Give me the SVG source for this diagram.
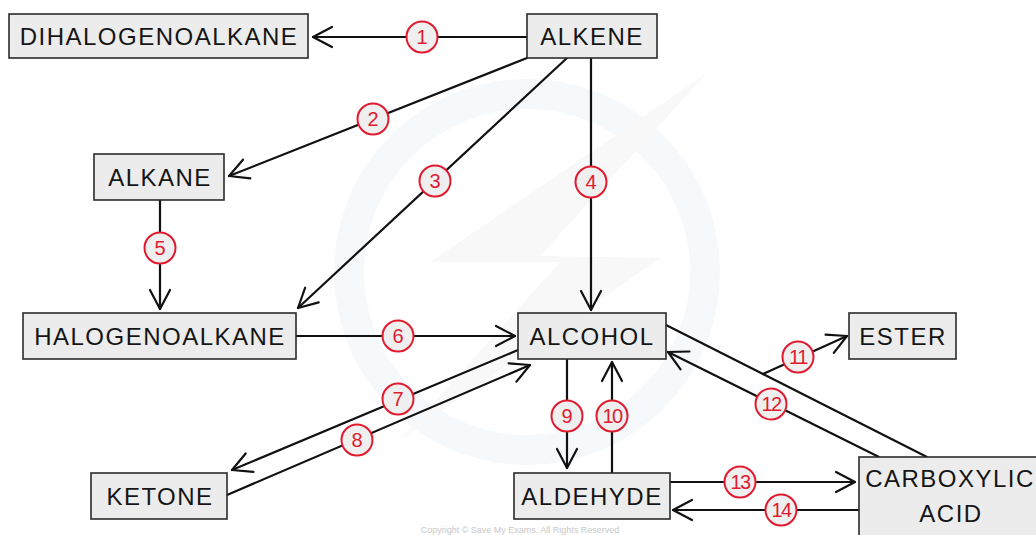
<svg xmlns="http://www.w3.org/2000/svg" width="1036" height="535" viewBox="0 0 1036 535">
  <style>
    .box { fill: #ececec; stroke: #2b2b2b; stroke-width: 1.6; }
    .lbl { font-family: "Liberation Sans", Arial, sans-serif; font-size: 24px; fill: #151515; text-anchor: middle; letter-spacing: 1.5px; }
    .edge { fill: none; stroke: #111; stroke-width: 2.2; stroke-linecap: round; }
    .badge circle { fill: #efefef; stroke: #e01b2f; stroke-width: 2; }
    .badge text { font-family: "Liberation Sans", Arial, sans-serif; font-size: 20px; fill: #e01b2f; text-anchor: middle; }
    .wm { fill: none; stroke: #f6f9fc; stroke-width: 30; }
  </style>
  <defs>
    <marker id="arr" markerUnits="userSpaceOnUse" viewBox="-24 -14 28 28" markerWidth="28" markerHeight="28" refX="0" refY="0" orient="auto" overflow="visible">
      <path d="M-19,-10 L0,0 L-19,10" fill="none" stroke="#111" stroke-width="2.2" stroke-linecap="round" stroke-linejoin="round"/>
    </marker>
  </defs>
  <rect width="1036" height="535" fill="#ffffff"/>

  <g id="watermark">
    <circle class="wm" cx="527" cy="272" r="178"/>
    <polygon points="707,73 430,262 560,262 400,440 660,258 540,256" fill="#f8f8f9"/>
  </g>

  <g id="connectors">
    <line class="edge" x1="527" y1="37" x2="313" y2="37" marker-end="url(#arr)"/>
    <line class="edge" x1="527" y1="58" x2="229" y2="176" marker-end="url(#arr)"/>
    <line class="edge" x1="567" y1="58" x2="298" y2="308" marker-end="url(#arr)"/>
    <line class="edge" x1="591" y1="58" x2="591" y2="310" marker-end="url(#arr)"/>
    <line class="edge" x1="160" y1="200" x2="160" y2="309" marker-end="url(#arr)"/>
    <line class="edge" x1="296" y1="336" x2="515" y2="336" marker-end="url(#arr)"/>
    <line class="edge" x1="518" y1="350" x2="232" y2="470" marker-end="url(#arr)"/>
    <line class="edge" x1="227" y1="495" x2="530" y2="365" marker-end="url(#arr)"/>
    <line class="edge" x1="567" y1="359" x2="567" y2="468" marker-end="url(#arr)"/>
    <line class="edge" x1="612" y1="473" x2="612" y2="362" marker-end="url(#arr)"/>
    <line class="edge" x1="666" y1="325" x2="927" y2="457"/>
    <line class="edge" x1="763" y1="374" x2="847" y2="336" marker-end="url(#arr)"/>
    <line class="edge" x1="879" y1="457" x2="668" y2="352" marker-end="url(#arr)"/>
    <line class="edge" x1="670" y1="482" x2="855" y2="482" marker-end="url(#arr)"/>
    <line class="edge" x1="859" y1="510" x2="673" y2="510" marker-end="url(#arr)"/>
  </g>

  <g id="badges">
    <g class="badge"><circle cx="422" cy="37" r="15.5"/><text x="422" y="44">1</text></g>
    <g class="badge"><circle cx="373" cy="119" r="15.5"/><text x="373" y="126">2</text></g>
    <g class="badge"><circle cx="435" cy="181" r="15.5"/><text x="435" y="188">3</text></g>
    <g class="badge"><circle cx="591" cy="182" r="15.5"/><text x="591" y="189">4</text></g>
    <g class="badge"><circle cx="160" cy="248" r="15.5"/><text x="160" y="255">5</text></g>
    <g class="badge"><circle cx="398" cy="336" r="15.5"/><text x="398" y="343">6</text></g>
    <g class="badge"><circle cx="398" cy="399" r="15.5"/><text x="398" y="406">7</text></g>
    <g class="badge"><circle cx="357" cy="440" r="15.5"/><text x="357" y="447">8</text></g>
    <g class="badge"><circle cx="567" cy="416" r="15.5"/><text x="567" y="423">9</text></g>
    <g class="badge"><circle cx="612" cy="416" r="15.5"/><text x="612" y="423" letter-spacing="-1.5">10</text></g>
    <g class="badge"><circle cx="798" cy="357" r="15.5"/><text x="798" y="364" letter-spacing="-1.5">11</text></g>
    <g class="badge"><circle cx="771" cy="404" r="15.5"/><text x="771" y="411" letter-spacing="-1.5">12</text></g>
    <g class="badge"><circle cx="740" cy="482" r="15.5"/><text x="740" y="489" letter-spacing="-1.5">13</text></g>
    <g class="badge"><circle cx="781" cy="510" r="15.5"/><text x="781" y="517" letter-spacing="-1.5">14</text></g>
  </g>

  <g id="node-dihalogenoalkane">
    <rect class="box" x="9" y="14" width="299" height="44"/>
    <text class="lbl" x="159" y="45">DIHALOGENOALKANE</text>
  </g>
  <g id="node-alkene">
    <rect class="box" x="527" y="14" width="130" height="44"/>
    <text class="lbl" x="592" y="45">ALKENE</text>
  </g>
  <g id="node-alkane">
    <rect class="box" x="94" y="154" width="130" height="46"/>
    <text class="lbl" x="160" y="186">ALKANE</text>
  </g>
  <g id="node-halogenoalkane">
    <rect class="box" x="23" y="313" width="273" height="46"/>
    <text class="lbl" x="160" y="345">HALOGENOALKANE</text>
  </g>
  <g id="node-alcohol">
    <rect class="box" x="518" y="313" width="148" height="46"/>
    <text class="lbl" x="592" y="345">ALCOHOL</text>
  </g>
  <g id="node-ester">
    <rect class="box" x="849" y="313" width="107" height="46"/>
    <text class="lbl" x="903" y="345">ESTER</text>
  </g>
  <g id="node-ketone">
    <rect class="box" x="91" y="473" width="136" height="46"/>
    <text class="lbl" x="160" y="505">KETONE</text>
  </g>
  <g id="node-aldehyde">
    <rect class="box" x="514" y="473" width="156" height="46"/>
    <text class="lbl" x="592" y="505">ALDEHYDE</text>
  </g>
  <g id="node-carboxylic-acid">
    <rect class="box" x="859" y="457" width="200" height="100"/>
    <text class="lbl" x="950" y="487">CARBOXYLIC</text>
    <text class="lbl" x="951" y="522">ACID</text>
  </g>

  <text x="520" y="533" font-family="Liberation Sans, Arial, sans-serif" font-size="9" fill="#c8c8c8" text-anchor="middle">Copyright © Save My Exams. All Rights Reserved</text>
</svg>
